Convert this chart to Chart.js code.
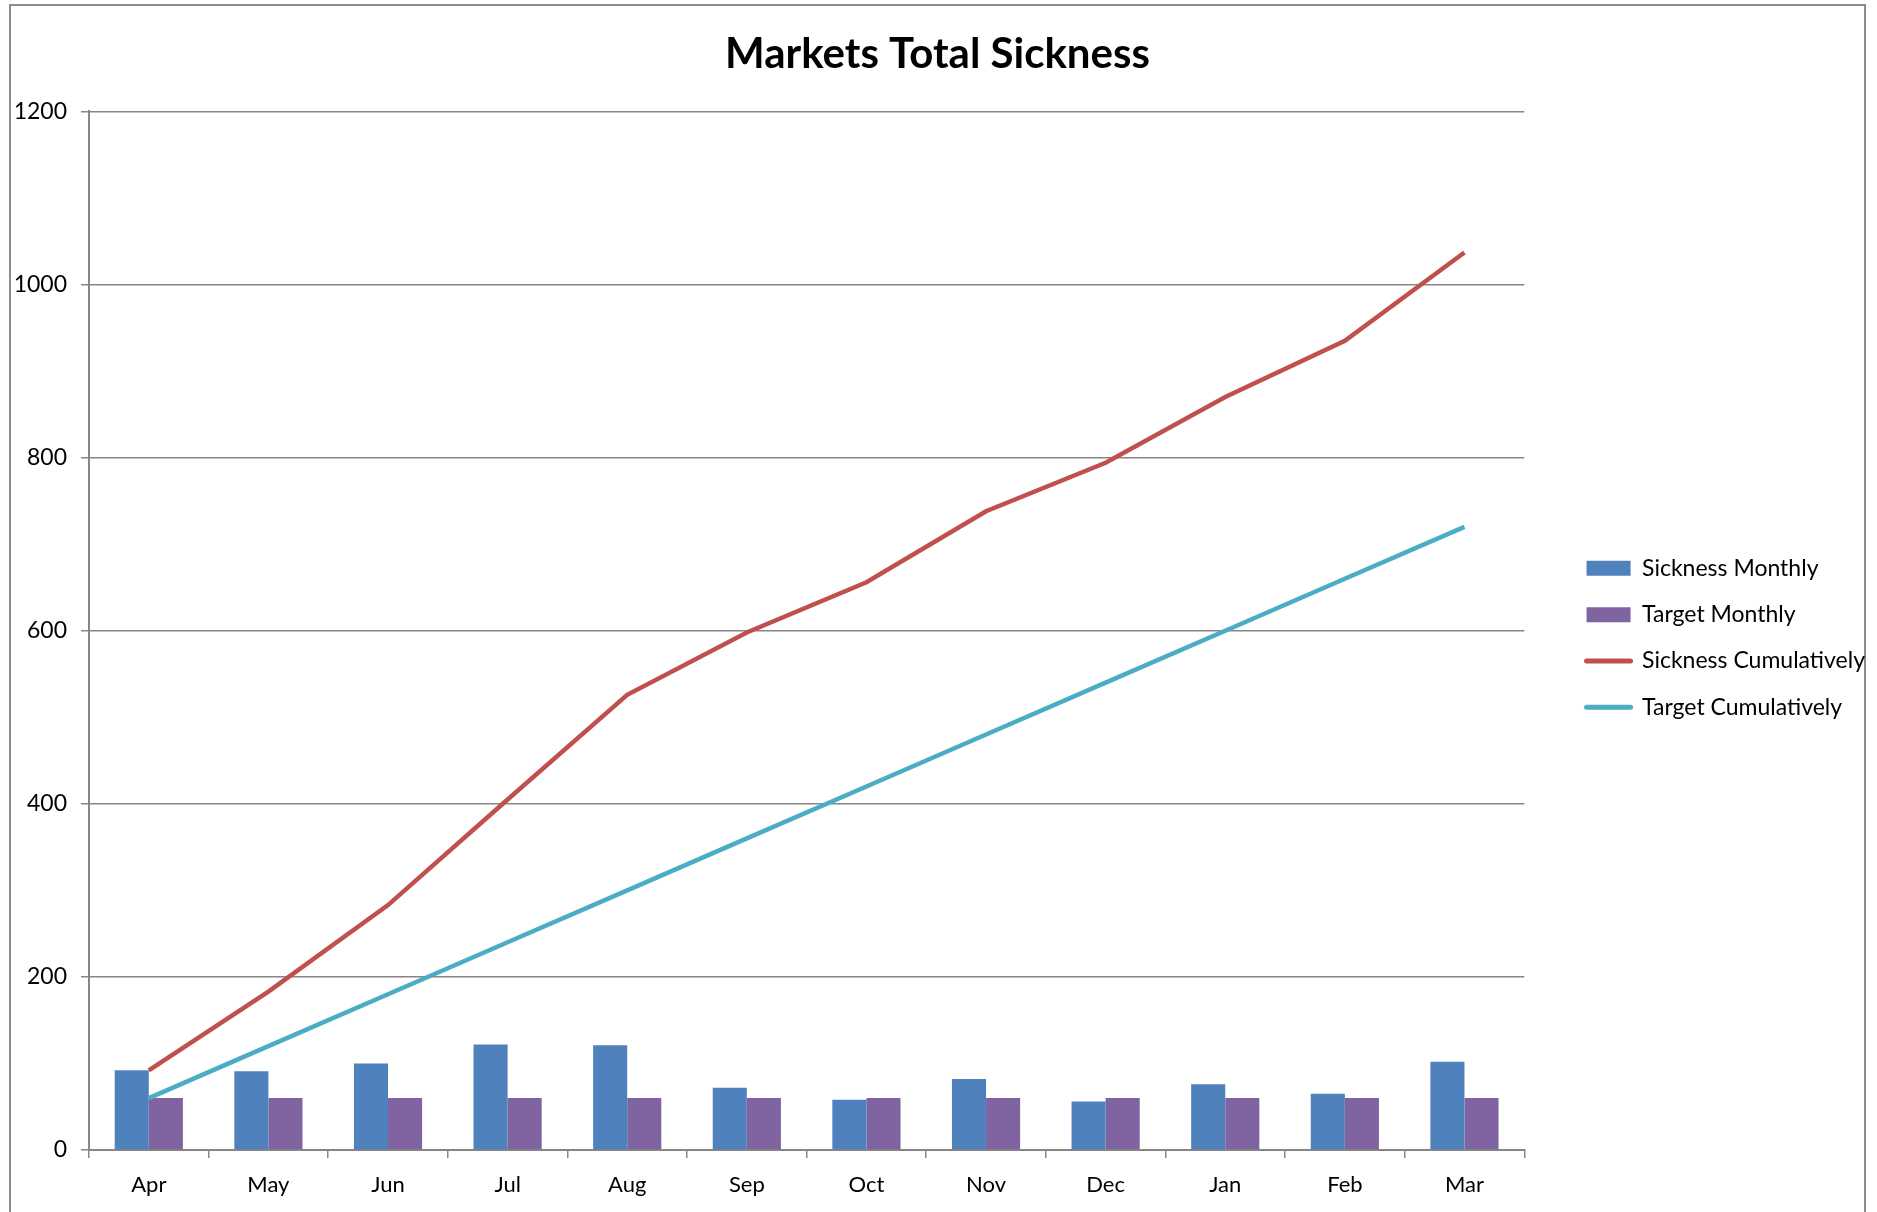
<!DOCTYPE html>
<html>
<head>
<meta charset="utf-8">
<script src="https://cdn.jsdelivr.net/npm/chart.js@4.4.1/dist/chart.umd.min.js"></script>
<style>
  body { margin: 0; background: #fff; }
  #wrap { position: relative; width: 1877px; height: 1212px; }
  #frame {
    position: absolute; left: 9px; top: 4px; width: 1857px; height: 1220px;
    border: 2px solid #8c8c8c; box-sizing: border-box;
  }
  canvas { position: absolute; left: 0; top: 0; }
</style>
</head>
<body>
<div id="wrap">
  <div id="frame"></div>
  <canvas id="sickness-chart" width="1877" height="1212"></canvas>
</div>
<script>
const months = ["Apr", "May", "Jun", "Jul", "Aug", "Sep", "Oct", "Nov", "Dec", "Jan", "Feb", "Mar"];
const sicknessMonthly = [92, 91, 100, 122, 121, 72, 58, 82, 56, 76, 65, 102];
const targetMonthly = [60, 60, 60, 60, 60, 60, 60, 60, 60, 60, 60, 60];
const sicknessCumulative = [92, 183, 283, 405, 526, 598, 656, 738, 794, 870, 935, 1037];
const targetCumulative = [60, 120, 180, 240, 300, 360, 420, 480, 540, 600, 660, 720];
const yTicks = [0, 200, 400, 600, 800, 1000, 1200];

const fontFamily = "Lato, 'Open Sans', sans-serif";
const gridGray = "#868686";

new Chart(document.getElementById("sickness-chart"), {
  type: "bar",
  data: {
    labels: months,
    datasets: [
      {
        label: "Sickness Monthly",
        data: sicknessMonthly,
        backgroundColor: "#4F81BD",
        borderWidth: 0,
        order: 1,
        categoryPercentage: 0.57,
        barPercentage: 1.0,
      },
      {
        label: "Target Monthly",
        data: targetMonthly,
        backgroundColor: "#8064A2",
        borderWidth: 0,
        order: 1,
        categoryPercentage: 0.57,
        barPercentage: 1.0,
      },
      {
        type: "line",
        label: "Sickness Cumulatively",
        data: sicknessCumulative,
        borderColor: "#C0504D",
        backgroundColor: "#C0504D",
        borderWidth: 4.5,
        pointRadius: 0,
        tension: 0,
        fill: false,
        order: 0,
      },
      {
        type: "line",
        label: "Target Cumulatively",
        data: targetCumulative,
        borderColor: "#4BACC6",
        backgroundColor: "#4BACC6",
        borderWidth: 4.5,
        pointRadius: 0,
        tension: 0,
        fill: false,
        order: 0,
      },
    ],
  },
  options: {
    responsive: false,
    animation: false,
    devicePixelRatio: 1,
    layout: { padding: { top: 0, right: 2, bottom: 0, left: 0 } },
    plugins: {
      tooltip: { enabled: false },
      title: {
        display: true,
        text: "Markets Total Sickness",
        color: "#000",
        font: { family: fontFamily, size: 42, weight: "bold" },
        padding: { top: 29, bottom: 32 },
      },
      legend: {
        position: "right",
        fullSize: false,
        // empty legend title, only used to push the items down a little
        title: {
          display: true,
          text: " ",
          font: { size: 1 },
          padding: { top: 7, bottom: 6 },
        },
        labels: {
          color: "#000",
          font: { family: fontFamily, size: 23 },
          padding: 23.3,
          boxWidth: 44,
          boxHeight: 15,
          usePointStyle: true,
          pointStyleWidth: 44,
          sort: (a, b) => a.datasetIndex - b.datasetIndex,
          generateLabels: (chart) => {
            const items = Chart.defaults.plugins.legend.labels.generateLabels(chart);
            items.forEach((item) => {
              const ds = chart.data.datasets[item.datasetIndex];
              item.pointStyle = ds.type === "line" ? "line" : "rect";
              if (ds.type === "line") {
                item.lineWidth = 5;
                item.lineCap = "round";
              }
            });
            return items;
          },
        },
      },
    },
    scales: {
      x: {
        offset: true,
        grid: {
          offset: true,
          drawOnChartArea: false,
          drawTicks: true,
          tickLength: 8,
          color: gridGray,
          lineWidth: 1.5,
        },
        border: { color: gridGray, width: 2 },
        ticks: {
          color: "#000",
          padding: 14,
          font: { family: fontFamily, size: 22 },
        },
        afterFit: (scale) => {
          scale.height = 62;
        },
      },
      y: {
        min: 0,
        max: 1200,
        afterBuildTicks: (scale) => {
          scale.ticks = yTicks.map((v) => ({ value: v }));
        },
        grid: {
          color: gridGray,
          lineWidth: 1.5,
          drawTicks: true,
          tickLength: 8,
        },
        border: { color: gridGray, width: 2 },
        ticks: {
          color: "#000",
          padding: 14,
          font: { family: fontFamily, size: 23 },
          callback: (value) => String(value),
        },
        afterFit: (scale) => {
          scale.width = 89;
        },
      },
      gap: {
        position: "right",
        display: true,
        grid: { display: false, drawTicks: false },
        border: { display: false },
        ticks: { display: false },
        afterFit: (scale) => {
          scale.width = 39;
        },
      },
    },
  },
});
</script>
</body>
</html>
